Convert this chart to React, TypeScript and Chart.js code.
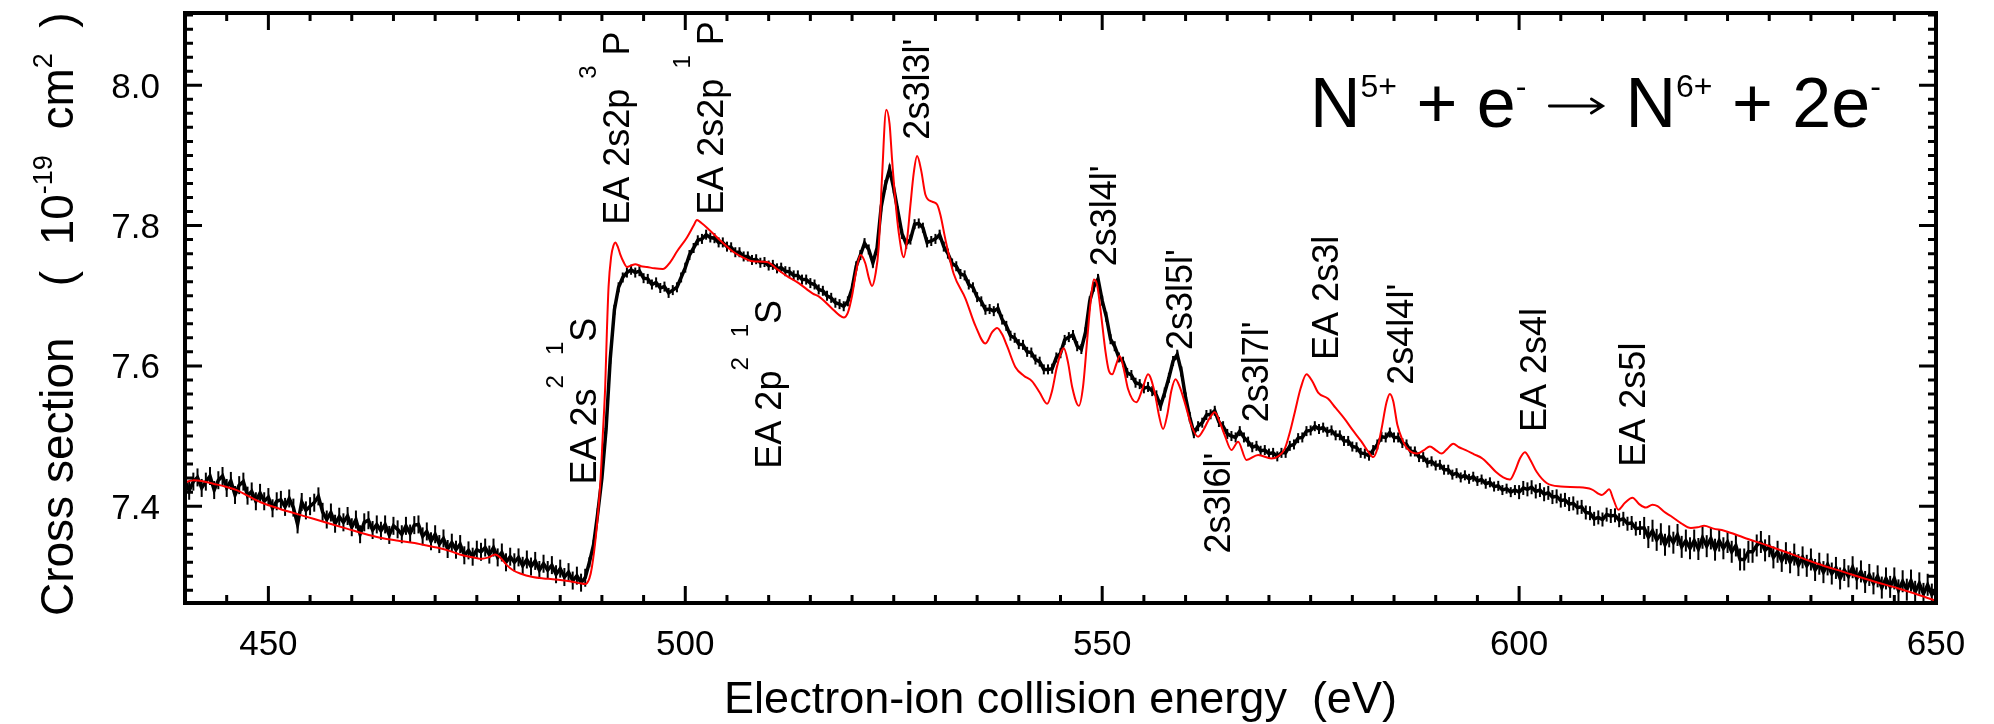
import { useEffect, useRef } from 'react';
import { Chart, registerables } from 'chart.js';

Chart.register(...registerables);

// ---------------- data ----------------
// experimental cross section (10^-19 cm^2), 0.5 eV spacing starting at 440 eV
const expStart = 440;
const expStep = 0.5;
const expCross = [
  7.436, 7.422, 7.435, 7.441, 7.426, 7.435, 7.443, 7.423, 7.437, 7.443, // 440
  7.426, 7.436, 7.416, 7.430, 7.435, 7.415, 7.421, 7.407, 7.419, 7.407, // 445
  7.413, 7.397, 7.407, 7.409, 7.399, 7.411, 7.398, 7.374, 7.406, 7.394, // 450
  7.400, 7.405, 7.414, 7.392, 7.381, 7.391, 7.375, 7.385, 7.377, 7.386, // 455
  7.370, 7.381, 7.360, 7.377, 7.380, 7.366, 7.374, 7.365, 7.374, 7.359, // 460
  7.372, 7.367, 7.360, 7.372, 7.361, 7.373, 7.374, 7.357, 7.364, 7.350, // 465
  7.360, 7.346, 7.354, 7.339, 7.348, 7.338, 7.346, 7.330, 7.337, 7.328, // 470
  7.338, 7.335, 7.341, 7.331, 7.341, 7.327, 7.334, 7.320, 7.328, 7.320, // 475
  7.327, 7.315, 7.324, 7.314, 7.322, 7.309, 7.318, 7.309, 7.316, 7.303, // 480
  7.311, 7.299, 7.306, 7.294, 7.301, 7.291, 7.298, 7.320, 7.345, 7.390, // 485
  7.440, 7.510, 7.610, 7.680, 7.712, 7.726, 7.733, 7.737, 7.733, 7.735, // 490
  7.725, 7.724, 7.716, 7.719, 7.711, 7.713, 7.704, 7.708, 7.712, 7.726, // 495
  7.740, 7.758, 7.768, 7.779, 7.781, 7.787, 7.783, 7.782, 7.776, 7.776, // 500
  7.770, 7.769, 7.762, 7.762, 7.756, 7.756, 7.751, 7.752, 7.747, 7.748, // 505
  7.743, 7.744, 7.739, 7.740, 7.735, 7.734, 7.729, 7.729, 7.723, 7.723, // 510
  7.718, 7.716, 7.709, 7.707, 7.700, 7.697, 7.690, 7.688, 7.685, 7.692, // 515
  7.710, 7.742, 7.758, 7.775, 7.766, 7.747, 7.768, 7.827, 7.858, 7.880, // 520
  7.853, 7.820, 7.788, 7.774, 7.780, 7.802, 7.803, 7.797, 7.776, 7.778, // 525
  7.781, 7.787, 7.770, 7.760, 7.746, 7.742, 7.731, 7.729, 7.716, 7.712, // 530
  7.698, 7.692, 7.680, 7.681, 7.678, 7.682, 7.666, 7.657, 7.643, 7.640, // 535
  7.631, 7.630, 7.620, 7.619, 7.609, 7.606, 7.595, 7.595, 7.596, 7.612, // 540
  7.618, 7.637, 7.641, 7.644, 7.628, 7.624, 7.648, 7.692, 7.713, 7.724, // 545
  7.693, 7.670, 7.638, 7.628, 7.612, 7.606, 7.590, 7.587, 7.576, 7.574, // 550
  7.568, 7.570, 7.564, 7.558, 7.543, 7.562, 7.583, 7.607, 7.616, 7.592, // 555
  7.555, 7.527, 7.504, 7.514, 7.519, 7.530, 7.531, 7.536, 7.520, 7.514, // 560
  7.503, 7.500, 7.498, 7.507, 7.498, 7.492, 7.484, 7.486, 7.479, 7.480, // 565
  7.475, 7.476, 7.471, 7.476, 7.476, 7.486, 7.488, 7.497, 7.498, 7.507, // 570
  7.508, 7.514, 7.510, 7.512, 7.506, 7.508, 7.501, 7.501, 7.493, 7.493, // 575
  7.485, 7.484, 7.476, 7.475, 7.472, 7.480, 7.488, 7.499, 7.498, 7.505, // 580
  7.498, 7.498, 7.490, 7.488, 7.478, 7.478, 7.470, 7.470, 7.462, 7.464, // 585
  7.458, 7.459, 7.452, 7.452, 7.445, 7.447, 7.441, 7.444, 7.439, 7.442, // 590
  7.436, 7.438, 7.432, 7.434, 7.428, 7.429, 7.423, 7.425, 7.420, 7.423, // 595
  7.420, 7.426, 7.424, 7.427, 7.421, 7.423, 7.417, 7.419, 7.413, 7.414, // 600
  7.408, 7.409, 7.403, 7.404, 7.398, 7.399, 7.391, 7.390, 7.382, 7.384, // 605
  7.381, 7.388, 7.386, 7.387, 7.380, 7.382, 7.375, 7.376, 7.368, 7.369, // 610
  7.369, 7.356, 7.365, 7.352, 7.360, 7.345, 7.357, 7.348, 7.359, 7.342, // 615
  7.351, 7.340, 7.351, 7.339, 7.355, 7.343, 7.354, 7.338, 7.351, 7.340, // 620
  7.349, 7.335, 7.344, 7.324, 7.324, 7.335, 7.335, 7.344, 7.349, 7.337, // 625
  7.343, 7.327, 7.335, 7.322, 7.333, 7.320, 7.331, 7.316, 7.327, 7.315, // 630
  7.324, 7.309, 7.318, 7.306, 7.317, 7.304, 7.312, 7.297, 7.309, 7.300, // 635
  7.313, 7.297, 7.307, 7.292, 7.302, 7.290, 7.300, 7.284, 7.297, 7.285, // 640
  7.297, 7.280, 7.293, 7.281, 7.294, 7.278, 7.290, 7.275, 7.288, 7.274, // 645
  7.280, // 650
];

// theory (red curve)
const theoryEnergy = [
  440.0, 441.0, 442.0, 443.4, 444.8, 446.2, 447.5, 449.0, 451.4, 453.4,
  455.4, 457.4, 459.4, 461.4, 463.4, 465.4, 467.3, 469.0, 470.2, 471.8,
  473.3, 474.6, 475.6, 476.4, 477.2, 477.8, 478.6, 479.3, 480.2, 481.7,
  483.0, 484.1, 485.5, 486.6, 487.4, 488.0, 488.5, 488.8, 489.3, 489.8,
  490.1, 490.4, 490.6, 490.8, 491.1, 491.4, 491.6, 491.9, 492.2, 492.6,
  493.0, 493.5, 494.0, 494.7, 495.4, 496.3, 497.3, 498.2, 499.0, 500.2,
  501.0, 501.4, 501.9, 502.6, 504.0, 505.7, 507.0, 508.1, 509.8, 511.0,
  512.2, 513.6, 515.3, 516.0, 517.5, 518.5, 519.0, 519.5, 520.0, 520.5,
  521.0, 521.6, 522.0, 522.4, 522.8, 523.2, 523.6, 524.1, 524.5, 524.8,
  525.2, 525.6, 526.2, 526.6, 527.0, 527.4, 527.8, 528.3, 528.8, 529.6,
  530.2, 530.6, 531.2, 532.2, 533.6, 534.8, 536.0, 536.8, 537.4, 538.0,
  538.6, 539.6, 540.6, 541.6, 542.5, 543.4, 544.0, 544.6, 545.4, 545.9,
  546.4, 547.2, 547.7, 548.2, 548.6, 549.0, 549.4, 549.9, 550.4, 550.8,
  551.2, 551.7, 552.1, 552.6, 553.1, 554.1, 554.8, 555.5, 556.3, 556.8,
  557.3, 557.8, 558.3, 558.8, 559.3, 559.9, 560.7, 561.5, 562.2, 562.8,
  563.5, 564.1, 564.7, 565.5, 566.3, 567.3, 568.7, 570.3, 571.2, 571.9,
  572.5, 573.1, 573.8, 574.5, 575.2, 575.9, 577.1, 578.0, 579.1, 580.0,
  581.1, 582.0, 582.5, 583.0, 583.5, 584.1, 584.5, 584.9, 585.4, 586.0,
  586.6, 587.8, 588.6, 589.3, 590.0, 590.7, 591.4, 592.1, 592.8, 593.6,
  594.6, 595.6, 596.4, 597.2, 598.1, 598.9, 599.5, 600.1, 600.7, 601.3,
  602.1, 603.3, 605.0, 607.0, 608.7, 609.9, 610.4, 610.8, 611.3, 611.9,
  612.7, 613.6, 614.4, 615.2, 616.0, 616.6, 617.4, 618.2, 619.4, 620.6,
  621.4, 622.2, 623.3, 624.6, 627.0, 629.8, 632.6, 635.8, 639.0, 642.2,
  645.4, 648.6, 650.0,
];
const theoryCross = [
  7.434, 7.437, 7.436, 7.432, 7.428, 7.423, 7.415, 7.406, 7.396, 7.389,
  7.382, 7.375, 7.368, 7.361, 7.355, 7.351, 7.348, 7.344, 7.341, 7.336,
  7.330, 7.327, 7.325, 7.327, 7.331, 7.327, 7.316, 7.309, 7.304, 7.299,
  7.297, 7.296, 7.294, 7.292, 7.290, 7.289, 7.297, 7.313, 7.360, 7.431,
  7.500, 7.572, 7.650, 7.713, 7.755, 7.772, 7.776, 7.770, 7.759, 7.748,
  7.741, 7.743, 7.745, 7.742, 7.741, 7.739, 7.738, 7.748, 7.763, 7.783,
  7.800, 7.808, 7.804, 7.797, 7.781, 7.763, 7.754, 7.749, 7.748, 7.738,
  7.728, 7.718, 7.703, 7.699, 7.683, 7.672, 7.669, 7.676, 7.700, 7.735,
  7.758, 7.746, 7.726, 7.714, 7.730, 7.770, 7.870, 7.965, 7.945, 7.894,
  7.835, 7.790, 7.755, 7.780, 7.829, 7.875, 7.899, 7.878, 7.844, 7.834,
  7.830, 7.815, 7.780, 7.731, 7.696, 7.657, 7.632, 7.648, 7.654, 7.645,
  7.628, 7.598, 7.586, 7.578, 7.562, 7.546, 7.565, 7.600, 7.625, 7.605,
  7.570, 7.543, 7.570, 7.637, 7.690, 7.723, 7.715, 7.670, 7.620, 7.593,
  7.588, 7.603, 7.614, 7.595, 7.567, 7.548, 7.566, 7.588, 7.562, 7.530,
  7.510, 7.530, 7.565, 7.581, 7.570, 7.548, 7.515, 7.499, 7.510, 7.524,
  7.534, 7.520, 7.501, 7.480, 7.492, 7.466, 7.473, 7.468, 7.472, 7.482,
  7.505, 7.534, 7.568, 7.588, 7.578, 7.562, 7.553, 7.540, 7.524, 7.509,
  7.492, 7.476, 7.470, 7.482, 7.510, 7.548, 7.560, 7.550, 7.516, 7.495,
  7.482, 7.475, 7.480, 7.485, 7.480, 7.475, 7.482, 7.489, 7.484, 7.480,
  7.474, 7.468, 7.459, 7.449, 7.441, 7.438, 7.450, 7.468, 7.477, 7.467,
  7.449, 7.433, 7.428, 7.427, 7.424, 7.416, 7.420, 7.424, 7.410, 7.395,
  7.405, 7.412, 7.403, 7.398, 7.402, 7.400, 7.392, 7.386, 7.376, 7.369,
  7.370, 7.372, 7.368, 7.365, 7.355, 7.344, 7.332, 7.318, 7.306, 7.294,
  7.283, 7.271, 7.265,
];

const xTicks = [450, 500, 550, 600, 650];
const yTicks = [7.4, 7.6, 7.8, 8.0];

// resonance annotations: text (^{..} = superscript), energy, cross section where text starts
const annText = [
  'EA 2s^{2}  ^{1}S',
  'EA 2s2p ^{3} P',
  'EA 2s2p ^{1} P',
  'EA 2p^{2}  ^{1}S',
  "2s3l3l'",
  "2s3l4l'",
  "2s3l5l'",
  "2s3l6l'",
  "2s3l7l'",
  'EA 2s3l',
  "2s4l4l'",
  'EA 2s4l',
  'EA 2s5l',
];
const annEnergy = [489.3, 493.25, 504.5, 511.5, 529.2, 551.66, 560.77, 565.33, 569.89, 578.28, 587.28, 603.23, 615.1];
const annCross = [7.431, 7.801, 7.8155, 7.4535, 7.9225, 7.742, 7.6225, 7.3324, 7.5197, 7.6085, 7.5732, 7.5056, 7.4563];

const reactionText = 'N^{5+} + e^{-} → N^{6+} + 2e^{-}';
const xTitle = 'Electron-ion collision energy  (eV)';
const yTitle = 'Cross section    (  10^{-19}  cm^{2}  )';

const X_MIN = 440;
const X_MAX = 650;
const Y_MIN = 7.262;
const Y_MAX = 8.103;

// ---------------- helpers ----------------
const FONT = '"Liberation Sans", Arial, Helvetica, sans-serif';

type Seg = { t: string; sup: boolean };
function parseRich(s: string): Seg[] {
  const raw: Seg[] = [];
  const re = /\^\{([^}]*)\}/g;
  let last = 0;
  let m: RegExpExecArray | null;
  while ((m = re.exec(s))) {
    if (m.index > last) raw.push({ t: s.slice(last, m.index), sup: false });
    raw.push({ t: m[1], sup: true });
    last = re.lastIndex;
  }
  if (last < s.length) raw.push({ t: s.slice(last), sup: false });
  const out: Seg[] = [];
  for (const g of raw) {
    const parts = g.t.split(/(→)/);
    for (const p of parts) if (p.length) out.push({ t: p, sup: g.sup });
  }
  return out;
}

function segWidth(ctx: CanvasRenderingContext2D, g: Seg, size: number, supSize: number) {
  const px = g.sup ? supSize : size;
  if (g.t === '→') return px * 0.86;
  ctx.font = `${px}px ${FONT}`;
  return ctx.measureText(g.t).width;
}

function drawRich(
  ctx: CanvasRenderingContext2D,
  s: string,
  x: number,
  y: number,
  size: number,
  supSize: number,
  raise: number,
  rotated: boolean,
  align: 'left' | 'center' = 'left'
) {
  const segs = parseRich(s);
  ctx.save();
  ctx.translate(x, y);
  if (rotated) ctx.rotate(-Math.PI / 2);
  ctx.textBaseline = 'alphabetic';
  ctx.textAlign = 'left';
  let total = 0;
  for (const g of segs) total += segWidth(ctx, g, size, supSize);
  let cx = align === 'center' ? -total / 2 : 0;
  for (const g of segs) {
    const w = segWidth(ctx, g, size, supSize);
    const px = g.sup ? supSize : size;
    const by = g.sup ? -raise : 0;
    if (g.t === '→') {
      // thin long arrow
      const ay = by - px * 0.3;
      const x0 = cx + px * 0.05;
      const x1 = cx + w - px * 0.05;
      ctx.save();
      ctx.lineWidth = Math.max(2, px * 0.04);
      ctx.lineCap = 'round';
      ctx.beginPath();
      ctx.moveTo(x0, ay);
      ctx.lineTo(x1, ay);
      ctx.moveTo(x1 - px * 0.16, ay - px * 0.1);
      ctx.lineTo(x1, ay);
      ctx.lineTo(x1 - px * 0.16, ay + px * 0.1);
      ctx.stroke();
      ctx.restore();
    } else {
      ctx.font = `${px}px ${FONT}`;
      ctx.fillText(g.t, cx, by);
    }
    cx += w;
  }
  ctx.restore();
}

const decorPlugin = {
  id: 'decor',
  afterDraw(chart: any) {
    const { ctx, chartArea: a } = chart;
    const xs = chart.scales.x;
    const ys = chart.scales.y;
    ctx.save();
    ctx.fillStyle = '#000';
    ctx.strokeStyle = '#000';

    // ticks (inward, all four sides)
    ctx.lineWidth = 3;
    ctx.lineCap = 'butt';
    for (let k = Math.ceil(X_MIN / 5); k <= Math.floor(X_MAX / 5); k++) {
      const v = k * 5;
      const px = xs.getPixelForValue(v);
      const len = v % 50 === 0 ? 17 : 8;
      ctx.beginPath();
      ctx.moveTo(px, a.bottom);
      ctx.lineTo(px, a.bottom - len);
      ctx.moveTo(px, a.top);
      ctx.lineTo(px, a.top + len);
      ctx.stroke();
    }
    for (let k = Math.ceil(Y_MIN / 0.02 - 1e-6); k <= Math.floor(Y_MAX / 0.02 + 1e-6); k++) {
      const v = k * 0.02;
      const py = ys.getPixelForValue(v);
      const len = k % 10 === 0 ? 17 : 8;
      ctx.beginPath();
      ctx.moveTo(a.left, py);
      ctx.lineTo(a.left + len, py);
      ctx.moveTo(a.right, py);
      ctx.lineTo(a.right - len, py);
      ctx.stroke();
    }

    // frame
    ctx.lineWidth = 4;
    ctx.strokeRect(a.left, a.top, a.right - a.left, a.bottom - a.top);

    // tick labels
    ctx.font = `35px ${FONT}`;
    ctx.textBaseline = 'alphabetic';
    ctx.textAlign = 'center';
    for (const v of xTicks) {
      ctx.fillText(String(v), xs.getPixelForValue(v), 655);
    }
    ctx.textAlign = 'right';
    for (const v of yTicks) {
      ctx.fillText(v.toFixed(1), a.left - 25, ys.getPixelForValue(v) + 12.5);
    }

    // axis titles
    drawRich(ctx, xTitle, (a.left + a.right) / 2, 713, 45, 28, 18, false, 'center');
    drawRich(ctx, yTitle, 73, 616, 46, 27, 21, true, 'left');

    // reaction
    drawRich(ctx, reactionText, 1310, 127, 70, 32, 30, false, 'left');

    // annotations
    for (let i = 0; i < annText.length; i++) {
      drawRich(ctx, annText[i], xs.getPixelForValue(annEnergy[i]), ys.getPixelForValue(annCross[i]), 36, 24, 33, true, 'left');
    }
    ctx.restore();
  },
};

export default function App() {
  const ref = useRef<HTMLCanvasElement | null>(null);
  useEffect(() => {
    document.body.style.margin = '0';
    const canvas = ref.current;
    if (!canvas) return;
    const expData = expCross.map((v, i) => ({ x: expStart + i * expStep, y: v }));
    const theoryData = theoryEnergy.map((e, i) => ({ x: e, y: theoryCross[i] }));
    const chart = new Chart(canvas, {
      type: 'line',
      data: {
        datasets: [
          {
            label: 'theory',
            data: theoryData,
            borderColor: '#ff0000',
            borderWidth: 2,
            pointRadius: 0,
            cubicInterpolationMode: 'monotone',
            fill: false,
            order: 0,
            clip: 0,
          } as any,
          {
            label: 'experiment',
            data: expData,
            borderColor: '#000000',
            borderWidth: 3.5,
            pointStyle: 'line',
            rotation: 90,
            pointRadius: (c: any) => {
              const e = c.raw ? c.raw.x : 0;
              if (e < 488.5) return 9;
              if (e < 600) return 5;
              if (e < 615) return 7;
              return 11;
            },
            pointBorderColor: '#000000',
            pointBorderWidth: 2,
            pointHoverRadius: 0,
            tension: 0,
            fill: false,
            order: 1,
            clip: 0,
          } as any,
        ],
      },
      options: {
        animation: false,
        responsive: false,
        devicePixelRatio: 1,
        events: [],
        layout: { padding: { left: 185, right: 58, top: 7, bottom: 121 } },
        plugins: { legend: { display: false }, tooltip: { enabled: false } },
        scales: {
          x: { type: 'linear', min: X_MIN, max: X_MAX, display: false },
          y: { type: 'linear', min: Y_MIN, max: Y_MAX, display: false },
        },
      },
      plugins: [decorPlugin],
    });
    return () => chart.destroy();
  }, []);
  return (
    <div style={{ position: 'fixed', left: 0, top: 0, width: 1994, height: 724, background: '#fff' }}>
      <canvas ref={ref} width={1994} height={724} style={{ width: 1994, height: 724, display: 'block' }} />
    </div>
  );
}
